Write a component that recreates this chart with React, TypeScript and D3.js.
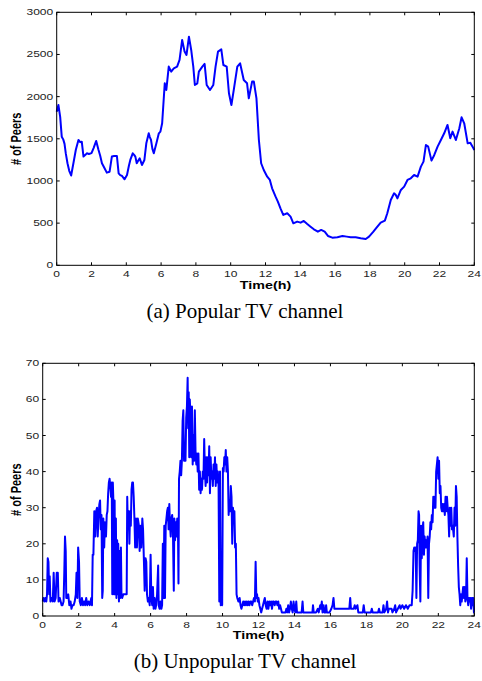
import React from 'react';
import * as d3 from 'd3';

const hourTicks = [0, 2, 4, 6, 8, 10, 12, 14, 16, 18, 20, 22, 24];
const popularTicks = [0, 500, 1000, 1500, 2000, 2500, 3000];
const unpopularTicks = [0, 10, 20, 30, 40, 50, 60, 70];

const popularSeries: [number, number][] = [
  [0, 1820], [0.1, 1900], [0.2, 1760], [0.29, 1525], [0.38, 1490], [0.45, 1440], [0.52, 1330], [0.62, 1210],
  [0.72, 1120], [0.83, 1065], [0.96, 1210], [1.1, 1370], [1.25, 1486], [1.35, 1460], [1.44, 1466], [1.54, 1289],
  [1.65, 1310], [1.73, 1328], [1.85, 1320], [2.0, 1330], [2.12, 1390], [2.27, 1475], [2.4, 1370], [2.5, 1300],
  [2.6, 1210], [2.75, 1150], [2.88, 1099], [3.04, 1110], [3.17, 1289], [3.3, 1295], [3.46, 1296], [3.56, 1091],
  [3.65, 1070], [3.75, 1059], [3.9, 1020], [4.04, 1071], [4.15, 1180], [4.23, 1249], [4.37, 1328], [4.45, 1310],
  [4.52, 1289], [4.6, 1210], [4.68, 1240], [4.77, 1268], [4.9, 1190], [5.04, 1249], [5.15, 1446], [5.29, 1565],
  [5.35, 1520], [5.42, 1486], [5.5, 1380], [5.58, 1328], [5.73, 1446], [5.87, 1565], [5.96, 1585], [6.06, 1684],
  [6.21, 2158], [6.3, 2079], [6.44, 2356], [6.58, 2297], [6.73, 2336], [6.92, 2356], [7.06, 2435], [7.21, 2672],
  [7.35, 2534], [7.46, 2494], [7.6, 2711], [7.73, 2553], [7.85, 2356], [7.94, 2138], [8.08, 2158], [8.17, 2297],
  [8.37, 2356], [8.5, 2388], [8.62, 2138], [8.81, 2079], [9.0, 2138], [9.13, 2356], [9.27, 2534], [9.46, 2561],
  [9.58, 2375], [9.77, 2356], [9.9, 2040], [10.04, 1901], [10.19, 2099], [10.38, 2356], [10.54, 2395], [10.75, 2198],
  [10.94, 2158], [11.04, 1980], [11.23, 2178], [11.33, 2178], [11.48, 1980], [11.62, 1486], [11.75, 1210], [11.9, 1130],
  [12.1, 1051], [12.25, 1012], [12.38, 913], [12.58, 814], [12.71, 755], [12.86, 676], [13.02, 597], [13.25, 617],
  [13.44, 577], [13.6, 498], [13.82, 518], [14.02, 506], [14.2, 526], [14.4, 490], [14.59, 458], [14.78, 427],
  [15.01, 399], [15.2, 419], [15.4, 399], [15.59, 348], [15.84, 328], [16.13, 332], [16.42, 348], [16.67, 340],
  [16.9, 332], [17.18, 332], [17.47, 320], [17.76, 312], [17.95, 340], [18.2, 399], [18.43, 458], [18.62, 506],
  [18.86, 530], [19.0, 617], [19.2, 775], [19.39, 854], [19.49, 834], [19.58, 794], [19.78, 893], [19.97, 933],
  [20.16, 1012], [20.35, 1032], [20.54, 1071], [20.74, 1051], [20.93, 1170], [21.08, 1229], [21.22, 1427], [21.35, 1407],
  [21.54, 1241], [21.7, 1308], [21.89, 1407], [22.08, 1486], [22.27, 1565], [22.46, 1664], [22.62, 1506], [22.75, 1585],
  [22.94, 1486], [23.14, 1625], [23.27, 1755], [23.42, 1684], [23.62, 1446], [23.77, 1454], [23.9, 1407], [24.0, 1368],
];

const unpopularSeries: [number, number][] = [
  [0.00, 4], [0.05, 5], [0.10, 4], [0.15, 5], [0.20, 4], [0.24, 6], [0.28, 16], [0.32, 15], [0.36, 6], [0.39, 11],
  [0.43, 4], [0.50, 5], [0.56, 4], [0.61, 12], [0.66, 4], [0.72, 5], [0.78, 12], [0.84, 12], [0.88, 4], [0.95, 5],
  [1.00, 4], [1.05, 3], [1.10, 3], [1.16, 4], [1.20, 12], [1.24, 22], [1.28, 18], [1.31, 5], [1.36, 5], [1.42, 6],
  [1.48, 3], [1.55, 4], [1.60, 2], [1.65, 3], [1.72, 3], [1.78, 4], [1.84, 6], [1.88, 12], [1.93, 5], [1.97, 19],
  [2.02, 15], [2.06, 4], [2.12, 3], [2.18, 5], [2.24, 3], [2.30, 4], [2.36, 3], [2.42, 5], [2.48, 3], [2.55, 4],
  [2.62, 3], [2.70, 5], [2.74, 3], [2.78, 17], [2.82, 17], [2.87, 29], [2.92, 22], [2.97, 29], [3.02, 30], [3.06, 22],
  [3.10, 27], [3.15, 31], [3.19, 32], [3.23, 24], [3.27, 28], [3.31, 5], [3.34, 7], [3.37, 27], [3.42, 19], [3.46, 26],
  [3.52, 22], [3.56, 28], [3.60, 29], [3.64, 34], [3.68, 37], [3.72, 38], [3.76, 36], [3.80, 33], [3.84, 37], [3.87, 6],
  [3.90, 37], [3.93, 32], [3.96, 6], [4.00, 32], [4.03, 6], [4.07, 27], [4.10, 5], [4.14, 21], [4.17, 6], [4.20, 20],
  [4.24, 4], [4.28, 18], [4.31, 5], [4.35, 19], [4.38, 6], [4.42, 5], [4.48, 6], [4.55, 6], [4.62, 6], [4.67, 6],
  [4.70, 33], [4.74, 24], [4.78, 29], [4.82, 20], [4.86, 29], [4.90, 25], [4.94, 35], [4.98, 37], [5.02, 37], [5.06, 33],
  [5.10, 27], [5.14, 19], [5.19, 27], [5.24, 19], [5.29, 27], [5.35, 25], [5.39, 18], [5.44, 25], [5.48, 19], [5.54, 27],
  [5.58, 24], [5.63, 15], [5.67, 7], [5.72, 16], [5.76, 15], [5.80, 6], [5.85, 4], [5.90, 5], [5.95, 3], [6.00, 17],
  [6.04, 5], [6.09, 3], [6.13, 8], [6.17, 2], [6.22, 5], [6.27, 2], [6.31, 3], [6.36, 6], [6.42, 14], [6.45, 3],
  [6.50, 2], [6.55, 4], [6.60, 2], [6.64, 3], [6.68, 20], [6.72, 5], [6.76, 25], [6.80, 5], [6.84, 25], [6.88, 27],
  [6.92, 29], [6.96, 30], [7.00, 24], [7.04, 31], [7.08, 25], [7.12, 22], [7.16, 27], [7.20, 28], [7.24, 24], [7.29, 7],
  [7.32, 27], [7.36, 21], [7.40, 26], [7.44, 22], [7.48, 27], [7.52, 25], [7.55, 9], [7.58, 38], [7.62, 40], [7.66, 43],
  [7.70, 39], [7.74, 43], [7.78, 54], [7.82, 57], [7.86, 43], [7.90, 47], [7.94, 43], [7.98, 55], [8.02, 58], [8.06, 66],
  [8.09, 52], [8.12, 62], [8.15, 44], [8.18, 60], [8.22, 55], [8.26, 44], [8.30, 58], [8.34, 42], [8.38, 50], [8.42, 43],
  [8.46, 57], [8.50, 45], [8.54, 42], [8.58, 45], [8.62, 40], [8.66, 45], [8.70, 35], [8.74, 40], [8.78, 34], [8.82, 38],
  [8.86, 35], [8.90, 40], [8.94, 38], [8.98, 49], [9.02, 40], [9.06, 36], [9.10, 44], [9.14, 37], [9.18, 44], [9.22, 39],
  [9.26, 47], [9.30, 34], [9.34, 44], [9.38, 38], [9.42, 40], [9.46, 36], [9.50, 42], [9.54, 38], [9.58, 44], [9.62, 36],
  [9.66, 42], [9.70, 37], [9.74, 40], [9.78, 36], [9.82, 4], [9.86, 40], [9.90, 3], [9.94, 5], [9.98, 3], [10.02, 41],
  [10.06, 40], [10.10, 44], [10.14, 42], [10.18, 46], [10.22, 40], [10.26, 44], [10.30, 40], [10.34, 28], [10.38, 32], [10.42, 29],
  [10.46, 36], [10.50, 33], [10.54, 20], [10.58, 30], [10.62, 27], [10.66, 29], [10.70, 19], [10.74, 20], [10.78, 6], [10.82, 5],
  [10.88, 4], [10.95, 5], [11.00, 3], [11.05, 2], [11.10, 3], [11.15, 4], [11.20, 3], [11.25, 4], [11.30, 3], [11.35, 4],
  [11.40, 3], [11.45, 4], [11.50, 3], [11.55, 4], [11.60, 4], [11.65, 3], [11.70, 4], [11.75, 5], [11.80, 4], [11.84, 15],
  [11.88, 5], [11.92, 6], [11.96, 4], [12.00, 5], [12.05, 3], [12.10, 2], [12.15, 1], [12.20, 2], [12.25, 3], [12.30, 4],
  [12.35, 5], [12.40, 3], [12.45, 2], [12.50, 4], [12.55, 2], [12.60, 4], [12.65, 3], [12.70, 4], [12.75, 2], [12.80, 4],
  [12.85, 4], [12.90, 3], [12.95, 4], [13.00, 4], [13.05, 3], [13.10, 4], [13.15, 2], [13.20, 3], [13.25, 2], [13.30, 1],
  [13.40, 1], [13.50, 1], [13.55, 2], [13.60, 1], [13.65, 3], [13.70, 1], [13.75, 2], [13.80, 4], [13.85, 2], [13.90, 1],
  [13.95, 4], [14.00, 2], [14.05, 1], [14.10, 4], [14.14, 1], [14.30, 1], [14.40, 1], [14.45, 4], [14.49, 1], [14.60, 1],
  [14.80, 1], [15.00, 1], [15.03, 3], [15.07, 1], [15.20, 1], [15.30, 2], [15.35, 1], [15.43, 3], [15.47, 2], [15.52, 4],
  [15.56, 1], [15.62, 3], [15.66, 1], [15.72, 1], [15.76, 3], [15.80, 1], [15.95, 1], [16.05, 2], [16.12, 3], [16.17, 5],
  [16.22, 2], [16.40, 2], [16.60, 2], [16.80, 2], [17.00, 2], [17.05, 2], [17.10, 5], [17.14, 2], [17.30, 2], [17.35, 3],
  [17.40, 2], [17.50, 3], [17.55, 1], [17.70, 1], [17.80, 1], [17.85, 3], [17.90, 1], [18.10, 1], [18.25, 1], [18.30, 2],
  [18.35, 1], [18.50, 1], [18.65, 1], [18.70, 2], [18.75, 1], [18.90, 1], [18.95, 3], [19.00, 1], [19.10, 2], [19.15, 4],
  [19.20, 1], [19.25, 2], [19.40, 2], [19.45, 1], [19.55, 2], [19.60, 3], [19.65, 1], [19.75, 2], [19.85, 3], [19.90, 2],
  [20.00, 3], [20.10, 2], [20.20, 3], [20.30, 2], [20.40, 3], [20.48, 3], [20.52, 3], [20.57, 7], [20.62, 18], [20.66, 19],
  [20.70, 18], [20.74, 19], [20.78, 5], [20.82, 20], [20.86, 21], [20.90, 29], [20.93, 28], [20.96, 14], [21.00, 4], [21.04, 25],
  [21.08, 16], [21.12, 24], [21.16, 26], [21.20, 17], [21.24, 22], [21.28, 19], [21.32, 21], [21.36, 19], [21.40, 22], [21.44, 5],
  [21.48, 20], [21.52, 22], [21.56, 26], [21.60, 24], [21.64, 28], [21.68, 26], [21.72, 33], [21.76, 30], [21.80, 33], [21.84, 30],
  [21.88, 40], [21.92, 42], [21.96, 44], [22.00, 38], [22.04, 43], [22.08, 34], [22.12, 36], [22.16, 30], [22.20, 29], [22.24, 31],
  [22.28, 29], [22.32, 31], [22.36, 28], [22.40, 33], [22.44, 29], [22.48, 33], [22.52, 30], [22.56, 28], [22.60, 22], [22.64, 30],
  [22.68, 25], [22.72, 30], [22.76, 24], [22.80, 25], [22.86, 22], [22.90, 30], [22.94, 25], [22.98, 36], [23.02, 33], [23.06, 22],
  [23.10, 14], [23.14, 8], [23.18, 6], [23.22, 3], [23.26, 6], [23.30, 4], [23.34, 6], [23.38, 8], [23.42, 5], [23.46, 8],
  [23.50, 4], [23.54, 5], [23.58, 16], [23.62, 5], [23.66, 3], [23.70, 5], [23.74, 4], [23.78, 5], [23.82, 2], [23.86, 5],
  [23.90, 3], [23.94, 5], [23.98, 1], [24.00, 1],
];

const xTitle = 'Time(h)';
const yTitle = '# of Peers';
const captions = ['(a) Popular TV channel', '(b) Unpopular TV channel'];

const SANS = '"Liberation Sans", Arial, Helvetica, sans-serif';
const SERIF = '"Liberation Serif", "Times New Roman", Times, serif';
const STRETCH = 1.45;

type PanelProps = {
  series: [number, number][];
  yTicks: number[];
  x0: number; x1: number; y0: number; y1: number;
  caption: string;
  captionY: number;
};

function Panel({ series, yTicks, x0, x1, y0, y1, caption, captionY }: PanelProps) {
  const x = d3.scaleLinear().domain([0, 24]).range([x0, x1]);
  const y = d3.scaleLinear().domain([0, yTicks[yTicks.length - 1]]).range([y1, y0]);
  const line = d3.line<[number, number]>().x(d => x(d[0])).y(d => y(d[1]));
  const tl = 3;
  return (
    <g>
      <path d={line(series) || ''} fill="none" stroke="#0000ff" strokeWidth={2} strokeLinejoin="round" />
      <rect x={x0} y={y0} width={x1 - x0} height={y1 - y0} fill="none" stroke="#000" strokeWidth={1} />
      {hourTicks.map(t => (
        <g key={'x' + t}>
          <line x1={x(t)} x2={x(t)} y1={y1} y2={y1 - tl} stroke="#000" />
          <line x1={x(t)} x2={x(t)} y1={y0} y2={y0 + tl} stroke="#000" />
          <text transform={`translate(${x(t)},${y1 + 11.7}) scale(${STRETCH},1)`} textAnchor="middle"
            fontFamily={SANS} fontSize={8.3} fill="#222">{t}</text>
        </g>
      ))}
      {yTicks.map(v => (
        <g key={'y' + v}>
          <line x1={x0} x2={x0 + tl} y1={y(v)} y2={y(v)} stroke="#000" />
          <line x1={x1} x2={x1 - tl} y1={y(v)} y2={y(v)} stroke="#000" />
          <text transform={`translate(${x0 - 3.5},${y(v) + 3}) scale(${STRETCH},1)`} textAnchor="end"
            fontFamily={SANS} fontSize={8.3} fill="#222">{v}</text>
        </g>
      ))}
      <text transform={`translate(${(x0 + x1) / 2},${y1 + 23.4}) scale(1.3,1)`} textAnchor="middle"
        fontFamily={SANS} fontSize={11} fontWeight="bold" fill="#000">{xTitle}</text>
      <text transform={`translate(21,${(y0 + y1) / 2}) rotate(-90) scale(1,1.4)`} textAnchor="middle"
        fontFamily={SANS} fontSize={11} fontWeight="bold" fill="#000">{yTitle}</text>
      <text x={245} y={captionY} textAnchor="middle" fontFamily={SERIF} fontSize={21} fill="#000">{caption}</text>
    </g>
  );
}

export default function App() {
  return (
    <svg width={482} height={681} style={{ position: 'absolute', left: 0, top: 0, background: '#fff' }}>
      <rect width={482} height={681} fill="#fff" />
      <Panel series={popularSeries} yTicks={popularTicks} x0={56.7} x1={474.3} y0={12.3} y1={265.3}
        caption={captions[0]} captionY={318} />
      <Panel series={unpopularSeries} yTicks={unpopularTicks} x0={42.7} x1={474.3} y0={363.3} y1={616}
        caption={captions[1]} captionY={668} />
    </svg>
  );
}
